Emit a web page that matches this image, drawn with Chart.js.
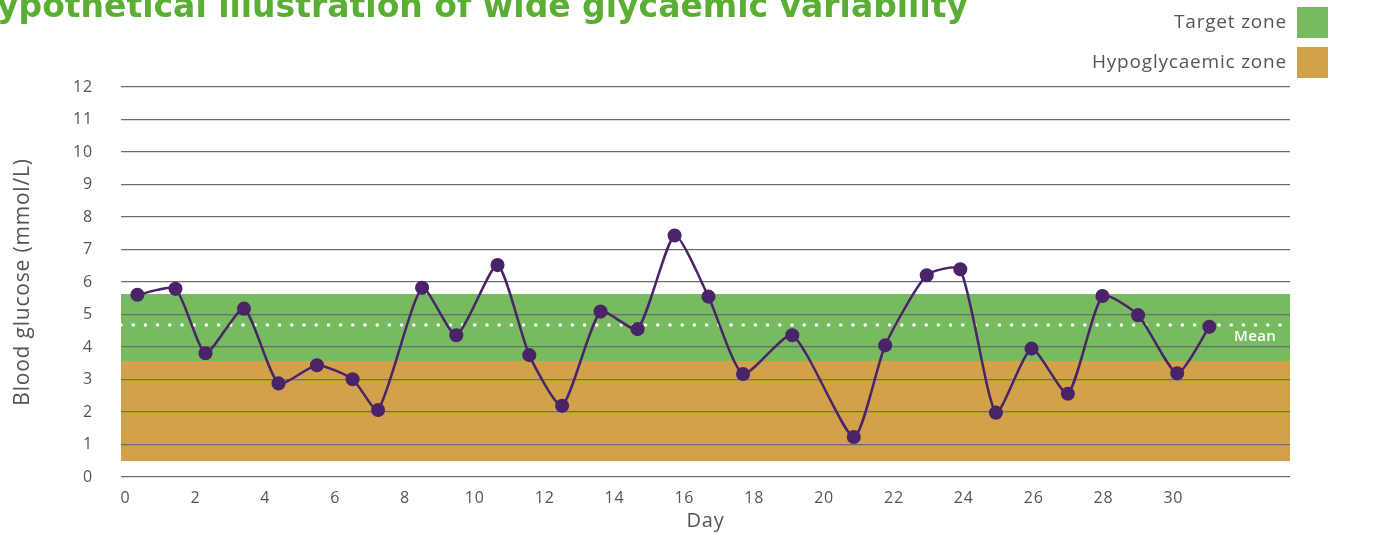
<!DOCTYPE html>
<html>
<head>
<meta charset="utf-8">
<script src="https://cdn.jsdelivr.net/npm/chart.js@4.4.1/dist/chart.umd.min.js"></script>
<style>
html, body { margin: 0; padding: 0; background: #fff; overflow: hidden; }
#wrap { position: relative; width: 1392px; height: 533px; }
</style>
</head>
<body>
<div id="wrap"><canvas id="glucose"></canvas></div>
<script>
const titleText = 'Hypothetical illustration of wide glycaemic variability';

// one reading per point
const days = [0.34, 1.43, 2.29, 3.39, 4.38, 5.48, 6.50, 7.23, 8.49, 9.47,
              10.65, 11.56, 12.50, 13.60, 14.66, 15.72, 16.69, 17.68, 19.09, 20.85,
              21.75, 22.94, 23.90, 24.92, 25.94, 26.98, 27.97, 28.99, 30.11, 31.03];
const glucose = [5.61, 5.79, 3.81, 5.18, 2.88, 3.44, 3.01, 2.06, 5.82, 4.36,
                 6.52, 3.75, 2.19, 5.09, 4.55, 7.43, 5.55, 3.17, 4.36, 1.23,
                 4.05, 6.21, 6.39, 1.98, 3.95, 2.56, 5.57, 4.98, 3.19, 4.62];

const dayTicks = [0, 2, 4, 6, 8, 10, 12, 14, 16, 18, 20, 22, 24, 26, 28, 30];
const dayRange = [-0.13, 33.34];
const meanGlucose = 4.68;
const targetZone = [3.57, 5.63];
const hypoZone = [0.49, 3.57];
const zoneLabels = ['Target zone', 'Hypoglycaemic zone'];

const GREEN = '#77ba60';
const GOLD = '#d1a249';
const PURPLE = '#4a2468';
const TEXT = '#555555';
const FONT = "'Open Sans', sans-serif";

// shaded zones go under the grid lines
const zonesPlugin = {
  id: 'zones',
  beforeDraw(chart) {
    const {ctx, chartArea, scales} = chart;
    const y = scales.y;
    ctx.save();
    [[hypoZone, GOLD], [targetZone, GREEN]].forEach(([z, col]) => {
      const top = y.getPixelForValue(z[1]);
      const bot = y.getPixelForValue(z[0]);
      ctx.fillStyle = col;
      ctx.fillRect(chartArea.left, top, chartArea.right - chartArea.left, bot - top);
    });
    ctx.restore();
    // the original face is a wide one, open the letters up a little
    ctx.letterSpacing = '0.8px';
  }
};

// title, zone legend and the Mean tag
const decorPlugin = {
  id: 'decor',
  afterDraw(chart) {
    const {ctx, chartArea, scales} = chart;
    ctx.save();
    ctx.letterSpacing = '0px';
    ctx.fillStyle = '#5aae33';
    ctx.font = "bold 33px 'DejaVu Sans', sans-serif";
    ctx.textAlign = 'right';
    ctx.textBaseline = 'alphabetic';
    ctx.fillText(titleText, 968, 17);

    ctx.letterSpacing = '0.8px';
    ctx.font = "19px " + FONT;
    ctx.textBaseline = 'middle';
    [[zoneLabels[0], GREEN, 7], [zoneLabels[1], GOLD, 47]].forEach(([txt, col, top]) => {
      ctx.fillStyle = col;
      ctx.fillRect(1297, top, 31, 31);
      ctx.fillStyle = TEXT;
      ctx.fillText(txt, 1287, top + 16);
    });

    const my = scales.y.getPixelForValue(meanGlucose);
    ctx.letterSpacing = '0.3px';
    ctx.fillStyle = '#ffffff';
    ctx.font = "600 15px " + FONT;
    ctx.fillText('Mean', chartArea.right - 14, my + 12);
    ctx.restore();
  }
};

new Chart(document.getElementById('glucose'), {
  type: 'scatter',
  data: {
    datasets: [
      {
        label: 'Blood glucose',
        data: days.map((d, i) => ({x: d, y: glucose[i]})),
        showLine: true,
        borderColor: PURPLE,
        backgroundColor: PURPLE,
        borderWidth: 2.5,
        pointRadius: 5.8,
        pointHoverRadius: 5.8,
        tension: 0.2
      },
      {
        label: 'Mean',
        data: [{x: dayRange[0], y: meanGlucose}, {x: dayRange[1], y: meanGlucose}],
        showLine: true,
        borderColor: '#ffffff',
        borderWidth: 3.5,
        borderDash: [0, 12.2],
        borderCapStyle: 'round',
        pointRadius: 0
      }
    ]
  },
  options: {
    responsive: true,
    maintainAspectRatio: false,
    animation: false,
    layout: { padding: { top: 87, right: 102, left: 0, bottom: 0 } },
    plugins: {
      legend: { display: false },
      tooltip: { enabled: false }
    },
    scales: {
      x: {
        type: 'linear',
        min: dayRange[0],
        max: dayRange[1],
        afterBuildTicks(axis) {
          axis.ticks = dayTicks.map(v => ({value: v}));
        },
        afterFit(axis) { axis.height = 56; },
        grid: { display: false, drawTicks: false },
        border: { display: false },
        ticks: {
          autoSkip: false,
          maxRotation: 0,
          padding: 12,
          color: TEXT,
          font: { family: FONT, size: 16 }
        },
        title: {
          display: true,
          text: 'Day',
          color: TEXT,
          padding: { top: 0, bottom: 0 },
          font: { family: FONT, size: 20 }
        }
      },
      y: {
        min: 0,
        max: 12,
        afterFit(axis) { axis.width = 121; },
        grid: { color: '#6e6e6e', lineWidth: 1.2, drawTicks: false },
        border: { display: false },
        ticks: {
          stepSize: 1,
          padding: 28,
          color: TEXT,
          font: { family: FONT, size: 16 }
        },
        title: {
          display: true,
          text: 'Blood glucose (mmol/L)',
          color: TEXT,
          padding: { top: 10, bottom: 0 },
          font: { family: FONT, size: 21 }
        }
      }
    }
  },
  plugins: [zonesPlugin, decorPlugin]
});
</script>
</body>
</html>
